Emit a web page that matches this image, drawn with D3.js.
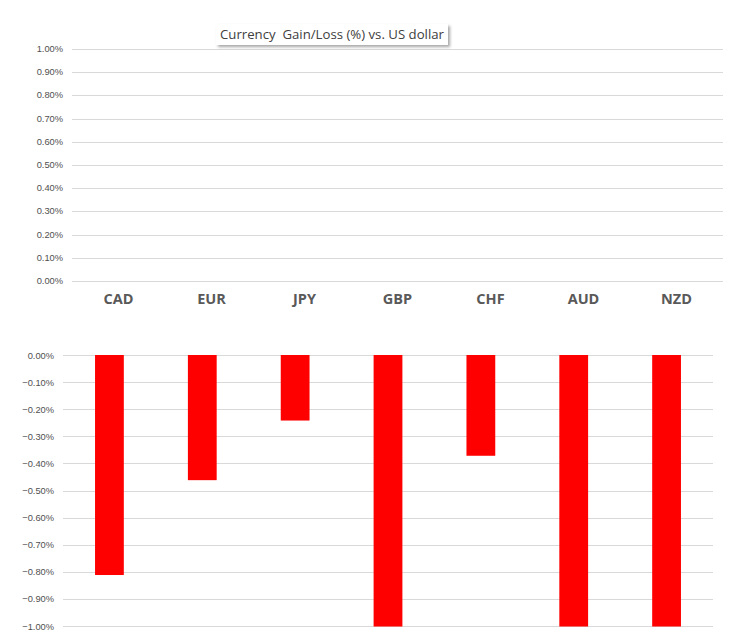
<!DOCTYPE html>
<html>
<head>
<meta charset="utf-8">
<script src="https://cdn.jsdelivr.net/npm/d3@7"></script>
<style>
  html, body { margin: 0; padding: 0; background: #fff; }
  svg { display: block; }
</style>
</head>
<body>
<svg id="chart" width="738" height="640"></svg>
<script>
// ---- data ----
const title = "Currency  Gain/Loss (%) vs. US dollar";
const categories = ["CAD", "EUR", "JPY", "GBP", "CHF", "AUD", "NZD"];
const values = [-0.81, -0.46, -0.24, -1.00, -0.37, -1.00, -1.00]; // percent
const topTicks = [0, 0.1, 0.2, 0.3, 0.4, 0.5, 0.6, 0.7, 0.8, 0.9, 1.0];
const bottomTicks = [0, -0.1, -0.2, -0.3, -0.4, -0.5, -0.6, -0.7, -0.8, -0.9, -1.0];

const svg = d3.select("#chart");
const fmt = d => d3.format(".2f")(d) + "%";
const tickFont = "'Liberation Sans', Arial, sans-serif";
const gridColor = "#d9d9d9";
const textColor = "#595959";

// ---- top panel (positive axis, empty) ----
const xTop = d3.scaleBand().domain(categories).range([72, 723]).paddingInner(0).paddingOuter(0);
const yTop = d3.scaleLinear().domain([0, 1]).range([281, 49]);

const gTop = svg.append("g");
gTop.selectAll("line.grid").data(topTicks).join("line")
  .attr("x1", 72).attr("x2", 723)
  .attr("y1", d => Math.round(yTop(d)) + 0.5).attr("y2", d => Math.round(yTop(d)) + 0.5)
  .attr("stroke", gridColor).attr("stroke-width", 1);
gTop.selectAll("text.tick").data(topTicks).join("text")
  .attr("x", 63).attr("y", d => yTop(d) + 3)
  .attr("text-anchor", "end")
  .attr("font-family", tickFont).attr("font-size", 9.3)
  .attr("fill", "#505050")
  .text(fmt);
gTop.selectAll("text.cat").data(categories).join("text")
  .attr("x", d => xTop(d) + xTop.bandwidth() / 2)
  .attr("y", 304)
  .attr("text-anchor", "middle")
  .attr("font-family", "'Open Sans', sans-serif").attr("font-weight", "bold")
  .attr("font-size", 14.5)
  .attr("fill", textColor)
  .text(d => d);

// ---- bottom panel (negative axis with bars) ----
const xBot = d3.scaleBand().domain(categories).range([63, 713]).paddingInner(0.69).paddingOuter(0.345);
const yBot = d3.scaleLinear().domain([0, -1]).range([355, 626]).clamp(true);

const gBot = svg.append("g");
gBot.selectAll("line.grid").data(bottomTicks).join("line")
  .attr("x1", 63).attr("x2", 713)
  .attr("y1", d => Math.round(yBot(d)) + 0.5).attr("y2", d => Math.round(yBot(d)) + 0.5)
  .attr("stroke", gridColor).attr("stroke-width", 1);
gBot.selectAll("text.tick").data(bottomTicks).join("text")
  .attr("x", 54).attr("y", d => yBot(d) + 3.5)
  .attr("text-anchor", "end")
  .attr("font-family", tickFont).attr("font-size", 9.3)
  .attr("fill", "#505050")
  .text(d => d === 0 ? "0.00%" : fmt(d));
gBot.selectAll("rect.bar").data(categories.map((c, i) => ({c, v: values[i]}))).join("rect")
  .attr("x", d => xBot(d.c))
  .attr("width", xBot.bandwidth())
  .attr("y", yBot(0))
  .attr("height", d => yBot(d.v) - yBot(0) + 0.5)
  .attr("fill", "#ff0000");

// ---- title box ----
const defs = svg.append("defs");
const f = defs.append("filter").attr("id", "shadow").attr("x", "-10%").attr("y", "-30%").attr("width", "130%").attr("height", "180%");
f.append("feDropShadow").attr("dx", 2).attr("dy", 2).attr("stdDeviation", 1.5).attr("flood-color", "#000").attr("flood-opacity", 0.35);
svg.append("rect")
  .attr("x", 216).attr("y", 24).attr("width", 232).attr("height", 21)
  .attr("fill", "#fff").attr("filter", "url(#shadow)");
svg.append("text")
  .attr("x", 220).attr("y", 39)
  .attr("font-family", "'Open Sans', sans-serif").attr("font-size", 13.2)
  .attr("fill", "#404040")
  .attr("xml:space", "preserve")
  .style("white-space", "pre")
  .text(title);
</script>
</body>
</html>
